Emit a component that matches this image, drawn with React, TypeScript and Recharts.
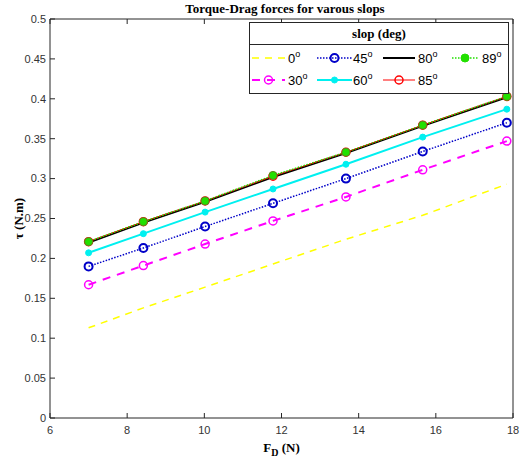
import { LineChart, Line, XAxis, YAxis, Legend } from "recharts";

// drag force (N) at each measured point
const fdValues = [7.0, 8.42, 10.02, 11.78, 13.67, 15.66, 17.84];

// torque (N.m) per slope angle
const tau0 = [0.113, 0.138, 0.164, 0.193, 0.224, 0.254, 0.293];
const tau30 = [0.167, 0.191, 0.218, 0.247, 0.277, 0.311, 0.347];
const tau45 = [0.19, 0.213, 0.24, 0.269, 0.3, 0.334, 0.37];
const tau60 = [0.207, 0.231, 0.258, 0.287, 0.318, 0.352, 0.387];
const tau80 = [0.22, 0.245, 0.271, 0.302, 0.332, 0.366, 0.402];
const tau85 = [0.221, 0.246, 0.272, 0.303, 0.333, 0.367, 0.403];
const tau89 = [0.221, 0.246, 0.272, 0.304, 0.333, 0.367, 0.403];

const xTicks = [6, 8, 10, 12, 14, 16, 18];
const yTicks = [0, 0.05, 0.1, 0.15, 0.2, 0.25, 0.3, 0.35, 0.4, 0.45, 0.5];

const data = fdValues.map((fd, i) => ({
  fd,
  s0: tau0[i],
  s30: tau30[i],
  s45: tau45[i],
  s60: tau60[i],
  s80: tau80[i],
  s85: tau85[i],
  s89: tau89[i],
}));

type Marker = "none" | "open" | "filled";
interface SeriesStyle {
  key: string;
  label: string;
  color: string;
  width: number;
  dash?: string;
  marker: Marker;
  r: number;
  mw: number;
}

const series: SeriesStyle[] = [
  { key: "s0", label: "0", color: "#ffff00", width: 1.5, dash: "7 6", marker: "none", r: 0, mw: 0 },
  { key: "s30", label: "30", color: "#ff00ff", width: 2, dash: "8 7", marker: "open", r: 4, mw: 1.5 },
  { key: "s45", label: "45", color: "#0000c8", width: 1.5, dash: "1.5 1.5", marker: "open", r: 4, mw: 2 },
  { key: "s60", label: "60", color: "#00f0f0", width: 2, marker: "filled", r: 3, mw: 1 },
  { key: "s80", label: "80", color: "#000000", width: 2, marker: "none", r: 0, mw: 0 },
  { key: "s85", label: "85", color: "#ff0000", width: 1, marker: "open", r: 4, mw: 1.5 },
  { key: "s89", label: "89", color: "#22e000", width: 1.5, dash: "1.5 1.5", marker: "filled", r: 4, mw: 1 },
];

// MATLAB fills the 4-column legend row by row
const legendOrder = ["s0", "s45", "s80", "s89", "s30", "s60", "s85"];

const AXIS = "#262626";
const TICK_FONT = "'Liberation Sans', Arial, sans-serif";
const SERIF = "'Liberation Serif', 'Times New Roman', serif";

function markerFor(s: SeriesStyle) {
  if (s.marker === "none") return false;
  return (p: any) => (
    <circle
      key={`${s.key}-${p.index}`}
      cx={p.cx}
      cy={p.cy}
      r={s.r}
      fill={s.marker === "filled" ? s.color : "none"}
      stroke={s.marker === "filled" && s.key === "s89" ? "#5a8a20" : s.color}
      strokeWidth={s.mw}
    />
  );
}

const BottomTick = (p: any) => (
  <g>
    <line x1={p.x} x2={p.x} y1={p.y - 8} y2={p.y - 13} stroke={AXIS} />
    <text x={p.x} y={p.y} dy="0.75em" textAnchor="middle" fontSize={11} fill="#333" fontFamily={TICK_FONT}>
      {p.payload.value}
    </text>
  </g>
);

const LeftTick = (p: any) => (
  <g>
    <line x1={p.x + 4} x2={p.x + 9} y1={p.y} y2={p.y} stroke={AXIS} />
    <text x={p.x} y={p.y} dy="0.35em" textAnchor="end" fontSize={11} fill="#333" fontFamily={TICK_FONT}>
      {p.payload.value}
    </text>
  </g>
);

const TopTick = (p: any) => <line x1={p.x} x2={p.x} y1={p.y} y2={p.y + 5} stroke={AXIS} />;
const RightTick = (p: any) => <line x1={p.x} x2={p.x - 5} y1={p.y} y2={p.y} stroke={AXIS} />;

function LegendBox() {
  const cols = [
    { x1: 3, x2: 36, tx: 39 },
    { x1: 68, x2: 103, tx: 104 },
    { x1: 134, x2: 166, tx: 169 },
    { x1: 203, x2: 229, tx: 233 },
  ];
  const rows = [36, 58];
  return (
    <svg width={260} height={72} style={{ display: "block" }}>
      <rect x={0.5} y={0.5} width={259} height={71} fill="#fff" stroke={AXIS} />
      <line x1={0.5} x2={259.5} y1={22.5} y2={22.5} stroke={AXIS} />
      <text x={130} y={16} textAnchor="middle" fontSize={13} fontWeight="bold" fontFamily={SERIF} fill="#000">
        slop (deg)
      </text>
      {legendOrder.map((k, i) => {
        const s = series.find((d) => d.key === k)!;
        const c = cols[i % 4];
        const y = rows[Math.floor(i / 4)];
        const mx = (c.x1 + c.x2) / 2;
        return (
          <g key={k}>
            <line x1={c.x1} x2={c.x2} y1={y} y2={y} stroke={s.color} strokeWidth={s.width} strokeDasharray={s.dash} />
            {s.marker !== "none" && (
              <circle
                cx={mx}
                cy={y}
                r={s.r}
                fill={s.marker === "filled" ? s.color : "none"}
                stroke={s.color}
                strokeWidth={s.mw}
              />
            )}
            <text x={c.tx} y={y + 5} fontSize={13} fontFamily={TICK_FONT} fill="#000">
              {s.label}
              <tspan dy={-6} fontSize={9}>o</tspan>
            </text>
          </g>
        );
      })}
    </svg>
  );
}

export default function App() {
  return (
    <div
      style={{
        position: "absolute",
        left: 0,
        top: 0,
        width: 521,
        height: 460,
        background: "#fff",
      }}
    >
      <div
        style={{
          position: "absolute",
          left: 0,
          top: 1,
          width: 570,
          textAlign: "center",
          fontFamily: SERIF,
          fontWeight: "bold",
          fontSize: 13,
          color: "#000",
        }}
      >
        Torque-Drag forces for varous slops
      </div>
      <LineChart width={521} height={460} data={data} margin={{ top: 18, right: 0, bottom: 0, left: 0 }}>
        <XAxis
          dataKey="fd"
          type="number"
          domain={[6, 18]}
          ticks={xTicks}
          interval={0}
          height={42}
          tickSize={0}
          tickMargin={8}
          tick={BottomTick}
          axisLine={{ stroke: AXIS }}
          label={{
            content: (p: any) => {
              const vb = p.viewBox;
              return (
                <text
                  x={vb.x + vb.width / 2}
                  y={vb.y + 34}
                  textAnchor="middle"
                  fontSize={13}
                  fontWeight="bold"
                  fontFamily={SERIF}
                  fill="#000"
                >
                  F<tspan dy={4} fontSize={10}>D</tspan>
                  <tspan dy={-4}> (N)</tspan>
                </text>
              );
            },
          }}
        />
        <XAxis
          xAxisId="top"
          orientation="top"
          dataKey="fd"
          type="number"
          domain={[6, 18]}
          ticks={xTicks}
          interval={0}
          height={1}
          tickSize={0}
          tickMargin={0}
          tick={TopTick}
          axisLine={{ stroke: AXIS }}
        />
        <YAxis
          type="number"
          domain={[0, 0.5]}
          ticks={yTicks}
          interval={0}
          width={50}
          tickSize={0}
          tickMargin={4}
          tick={LeftTick}
          axisLine={{ stroke: AXIS }}
          label={{
            content: (p: any) => {
              const vb = p.viewBox;
              const cx = vb.x + 18;
              const cy = vb.y + vb.height / 2;
              return (
                <text
                  x={cx}
                  y={cy}
                  transform={`rotate(-90 ${cx} ${cy})`}
                  textAnchor="middle"
                  dy="0.35em"
                  fontSize={13}
                  fontWeight="bold"
                  fontFamily={SERIF}
                  fill="#000"
                >
                  τ (N.m)
                </text>
              );
            },
          }}
        />
        <YAxis
          yAxisId="r"
          orientation="right"
          type="number"
          domain={[0, 0.5]}
          ticks={yTicks}
          interval={0}
          width={8}
          tickSize={0}
          tickMargin={0}
          tick={RightTick}
          axisLine={{ stroke: AXIS }}
        />
        {series.map((s) => (
          <Line
            key={s.key}
            type="linear"
            dataKey={s.key}
            stroke={s.color}
            strokeWidth={s.width}
            strokeDasharray={s.dash}
            dot={markerFor(s)}
            activeDot={false}
            isAnimationActive={false}
          />
        ))}
        <Legend
          layout="horizontal"
          verticalAlign="middle"
          align="center"
          content={() => <LegendBox />}
          wrapperStyle={{ position: "absolute", left: 249, top: 22, width: 260, height: 72 }}
        />
      </LineChart>
    </div>
  );
}
